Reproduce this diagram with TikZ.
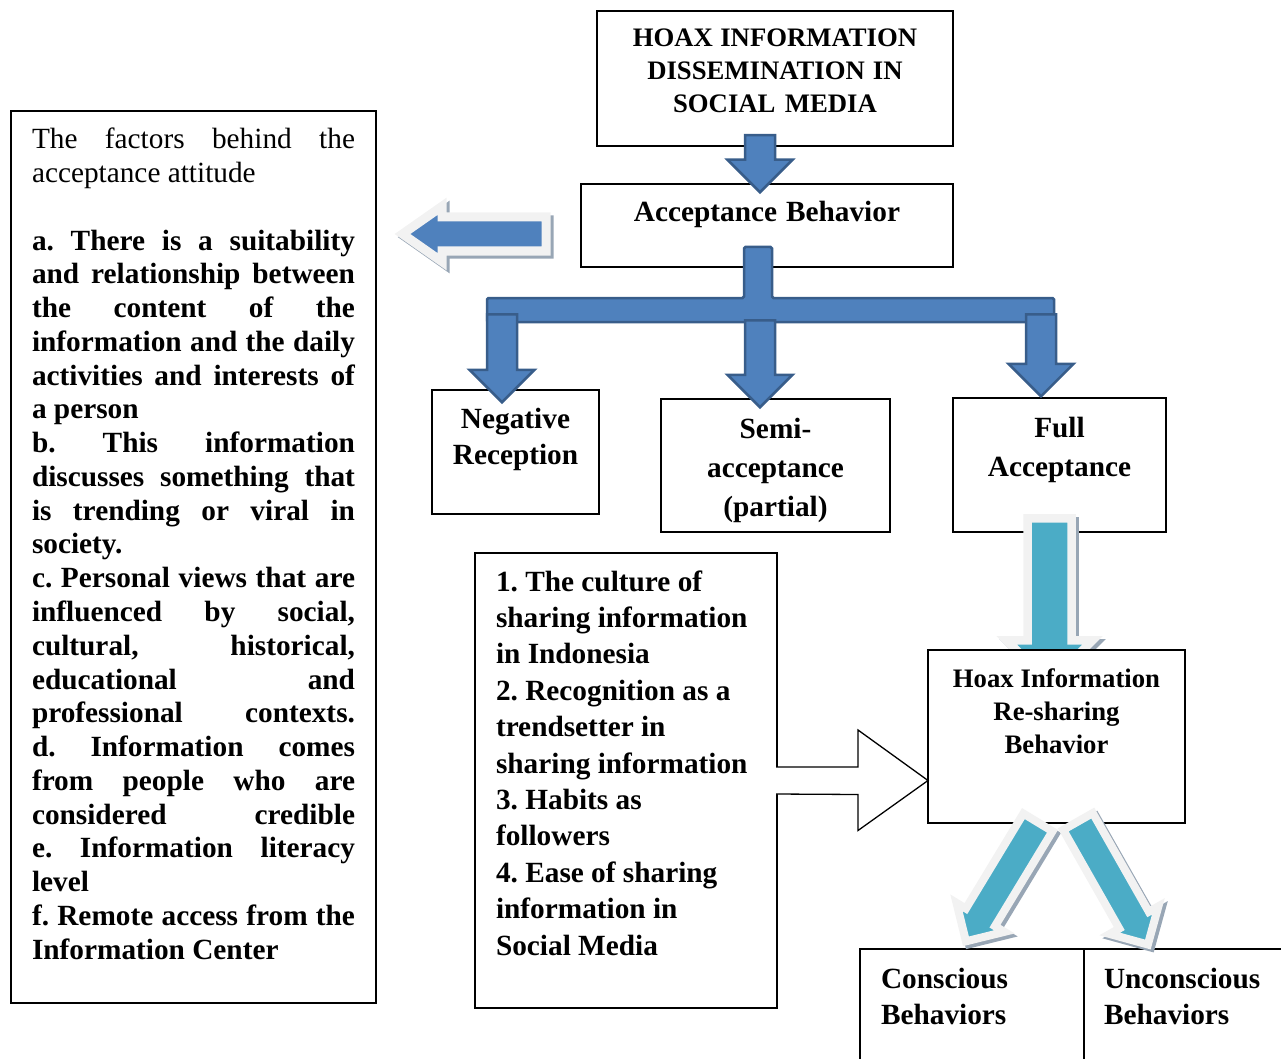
\documentclass[tikz,border=0pt]{standalone}
\usepackage{fontspec}
\setmainfont{Liberation Serif}
\usepackage{tikz}
\usetikzlibrary{shapes.arrows, calc}
\definecolor{hxBlue}{HTML}{4F81BD}
\definecolor{hxBlueLine}{HTML}{385D8A}
\definecolor{hxTeal}{HTML}{4BACC6}
\definecolor{hxGlow}{HTML}{F2F2F2}
\definecolor{hxShadow}{HTML}{98A6B5}
\frenchspacing
\newcommand{\jline}[1]{\makebox[323pt][s]{\spaceskip=.25em plus 1fil\relax #1}}
\tikzset{
  hxbox/.style={
    draw, line width=1.3pt, fill=white, anchor=north west,
    inner xsep=21pt, inner ysep=0pt, outer sep=0pt,
    execute at begin node={\spaceskip=.25em plus .1em minus .08em\relax}
  },
  hxbig/.style={font=\fontsize{29.3}{36}\selectfont\bfseries},
  hxmid/.style={font=\fontsize{26.7}{33}\selectfont\bfseries},
  hxlist/.style={font=\fontsize{29.3}{33.75}\selectfont},
  blockdown/.style={
    single arrow, draw=hxBlueLine, fill=hxBlue, line width=2.5pt,
    rotate=-90, anchor=tail, inner xsep=0pt, inner ysep=13.75pt,
    single arrow head extend=17.5pt, minimum height=#1
  },
  blockbar/.style={draw=hxBlueLine, fill=hxBlue, line width=2.5pt, rounded corners=1.5pt},
  glowarrow/.style={
    single arrow, fill=#1, draw=hxGlow, anchor=tail, inner xsep=0pt,
    preaction={draw=hxShadow, fill=hxShadow, transform canvas={shift={(3pt,-3pt)}}}
  },
  openarrow/.style={draw=black, fill=white, line width=1.3pt}
}
\begin{document}
\begin{tikzpicture}[x=1pt, y=-1pt]
  \useasboundingbox (0,0) rectangle (1281,1059);

  % boxes
  \node[hxbox, hxmid, text width=314pt, text height=36pt, text depth=99pt, align=center] (title) at (597,11) {HOAX INFORMATION\\DISSEMINATION IN\\SOCIAL MEDIA};
  \node[hxbox, hxbig, text width=330pt, text height=38pt, text depth=45pt, align=center] (accept) at (581,184) {Acceptance Behavior};
  \node[hxbox, hxlist, text width=323pt, text height=38pt, text depth=854pt, align=left] (factors) at (11,111) {%
    \jline{The factors behind the}\\
    acceptance attitude\\
    \mbox{}\\
    \bfseries
    \jline{a. There is a suitability}\\
    \jline{and relationship between}\\
    \jline{the content of the}\\
    \jline{information and the daily}\\
    \jline{activities and interests of}\\
    a person\\
    \jline{b. This information}\\
    \jline{discusses something that}\\
    \jline{is trending or viral in}\\
    society.\\
    \jline{c. Personal views that are}\\
    \jline{influenced by social,}\\
    \jline{cultural, historical,}\\
    \jline{educational and}\\
    \jline{professional contexts.}\\
    \jline{d. Information comes}\\
    \jline{from people who are}\\
    \jline{considered credible}\\
    \jline{e. Information literacy}\\
    level\\
    \jline{f. Remote access from the}\\
    Information Center};
  \node[hxbox, hxbig, inner xsep=10pt, text width=147pt, text height=38pt, text depth=86pt, align=center] (negative) at (432,390) {Negative\\Reception};
  \node[hxbox, hxbig, font=\fontsize{29.3}{39}\selectfont\bfseries, text width=187pt, text height=39pt, text depth=94pt, align=center] (semi) at (661,399) {Semi-\\acceptance\\(partial)};
  \node[hxbox, hxbig, font=\fontsize{29.3}{39}\selectfont\bfseries, text width=171pt, text height=39pt, text depth=95pt, align=center] (full) at (953,398) {Full\\Acceptance};
  \node[hxbox, hxbig, font=\fontsize{29.3}{36.4}\selectfont\bfseries, text width=260pt, text height=38pt, text depth=417pt, align=left] (culture) at (475,553) {1. The culture of\\sharing information\\in Indonesia\\2. Recognition as a\\trendsetter in\\sharing information\\3. Habits as\\followers\\4. Ease of sharing\\information in\\Social Media};
  \node[hxbox, hxbig, text width=182pt, text height=39pt, text depth=92pt, align=left] (conscious) at (860,949) {Conscious\\Behaviors};
  \node[hxbox, hxbig, inner xsep=20pt, text width=180pt, text height=39pt, text depth=92pt, align=left] (unconscious) at (1084,949) {Unconscious\\Behaviors};

  % blue block arrows
  \node[blockdown=57pt] (a0) at (760,134) {};
  \draw[blockbar] (744,247) -- (772,247) -- (772,298) -- (1054,298) -- (1054,322)
    -- (487,322) -- (487,298) -- (744,298) -- cycle;
  \node[blockdown=88pt] (a1) at (502,313) {};
  \node[blockdown=87pt] (a2) at (760,319) {};
  \node[blockdown=82pt] (a3) at (1041,313) {};

  % glow arrows
  \node[glowarrow=hxBlue, rotate=180, line width=9pt, inner ysep=12.5pt, single arrow head extend=10.75pt, single arrow tip angle=70, minimum height=143.5pt] (back) at (550.5,234) {};
  \node[glowarrow=hxTeal, rotate=-90, line width=8.5pt, inner ysep=17.75pt, single arrow head extend=21pt, minimum height=165pt] (down) at (1049.5,514) {};

  \node[hxbox, hxmid, text width=215pt, text height=37pt, text depth=136pt, align=center] (reshare) at (928,650) {Hoax Information\\Re-sharing\\Behavior};

  \node[glowarrow=hxTeal, rotate=-121.2, line width=8pt, inner ysep=13pt, single arrow head extend=11pt, minimum height=139pt] (left) at (1040,819) {};
  \node[glowarrow=hxTeal, rotate=-60.4, line width=8pt, inner ysep=13pt, single arrow head extend=11pt, minimum height=141.5pt] (right) at (1076,818) {};

  % hollow arrow
  \draw[openarrow] ([shift={(-1pt,13.5pt)}]culture.east) -- ++(82,0) -- ++(0,-37)
    -- (culture.east -| reshare.west) -- ++(-70,50) -- ++(0,-36)
    -- ([shift={(-1pt,-13.5pt)}]culture.east);
\end{tikzpicture}
\end{document}
